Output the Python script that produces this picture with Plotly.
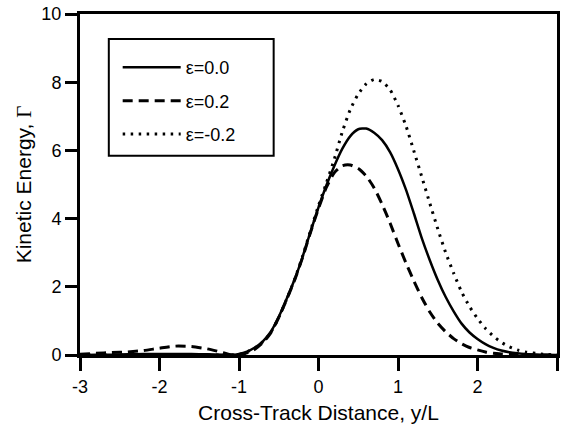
import plotly.graph_objects as go

x_vals = [-3.0, -2.8, -2.6, -2.4, -2.2, -2.0, -1.8, -1.6, -1.4, -1.2,
          -1.1, -1.0, -0.9, -0.8, -0.7, -0.6, -0.5, -0.4, -0.3, -0.2, -0.1,
          0.0, 0.1, 0.2, 0.3, 0.4, 0.5, 0.6, 0.7, 0.8, 0.9,
          1.0, 1.1, 1.2, 1.3, 1.4, 1.5, 1.6, 1.7, 1.8, 1.9,
          2.0, 2.1, 2.2, 2.3, 2.4, 2.5, 2.6, 2.8, 3.0]

eps_00 = [0.0, 0.01, 0.01, 0.02, 0.03, 0.03, 0.03, 0.03, 0.02, 0.01,
          0.0, 0.03, 0.1, 0.22, 0.4, 0.68, 1.12, 1.65, 2.22, 2.88, 3.62,
          4.33, 4.98, 5.55, 6.05, 6.42, 6.62, 6.64, 6.52, 6.3, 5.95,
          5.45, 4.85, 4.15, 3.42, 2.78, 2.2, 1.7, 1.28, 0.92, 0.66,
          0.47, 0.32, 0.21, 0.13, 0.08, 0.05, 0.03, 0.01, 0.0]

eps_p02 = [0.02, 0.05, 0.07, 0.09, 0.13, 0.2, 0.26, 0.25, 0.18, 0.07,
           0.01, 0.0, 0.06, 0.17, 0.36, 0.65, 1.1, 1.63, 2.2, 2.86, 3.6,
           4.3, 4.92, 5.35, 5.55, 5.57, 5.47, 5.25, 4.9, 4.42, 3.87,
           3.27, 2.7, 2.17, 1.68, 1.26, 0.93, 0.68, 0.48, 0.33, 0.22,
           0.15, 0.09, 0.05, 0.03, 0.02, 0.01, 0.0, 0.0, 0.0]

eps_m02 = [0.0, 0.0, 0.0, 0.0, 0.0, 0.0, 0.0, 0.0, 0.0, 0.0,
           0.0, 0.02, 0.09, 0.2, 0.39, 0.66, 1.1, 1.64, 2.22, 2.9, 3.65,
           4.38, 5.05, 5.75, 6.55, 7.2, 7.65, 7.95, 8.08, 8.02, 7.78,
           7.32, 6.72, 5.98, 5.22, 4.45, 3.7, 3.0, 2.4, 1.85, 1.42,
           1.07, 0.78, 0.55, 0.37, 0.24, 0.15, 0.09, 0.03, 0.0]

names = ["ε=0.0", "ε=0.2", "ε=-0.2"]
x_ticks = [-3, -2, -1, 0, 1, 2, 3]
y_ticks = [0, 2, 4, 6, 8, 10]

FONT = "Liberation Sans, Arial, sans-serif"

fig = go.Figure()
series = [(eps_00, "solid", 2.5), (eps_p02, "10px,6px", 3), (eps_m02, "2.5px,5.5px", 3)]
for i, (ys, dash, w) in enumerate(series):
    fig.add_trace(go.Scatter(
        x=x_vals, y=ys, mode="lines", name=names[i],
        legendgroup=str(i),
        line=dict(color="black", width=w, dash=dash, shape="spline", smoothing=0.6),
    ))

# legend frame
fig.add_shape(type="rect", xref="paper", yref="paper",
              x0=0.0604, x1=0.406, y0=0.584, y1=0.927,
              line=dict(color="black", width=2), fillcolor="white", layer="below")

fig.update_layout(
    width=561, height=434,
    margin=dict(l=80, r=1, t=14, b=79),
    paper_bgcolor="white", plot_bgcolor="white",
    font=dict(family=FONT, color="black", size=17),
    showlegend=True,
    legend=dict(
        x=0.079, y=0.897, xanchor="left", yanchor="top",
        bgcolor="rgba(0,0,0,0)", borderwidth=0,
        font=dict(size=18, family=FONT),
        traceorder="grouped", tracegroupgap=7,
        itemwidth=58,
    ),
)

fig.update_xaxes(
    range=[-3, 3], tickvals=x_ticks, ticktext=[str(v) for v in x_ticks],
    showgrid=False, zeroline=False,
    showline=True, linecolor="black", linewidth=3, mirror=True,
    ticks="outside", ticklen=13, tickwidth=2.5, tickcolor="black",
    tickfont=dict(size=18),
    title=dict(text="Cross-Track Distance, y/L", font=dict(size=21), standoff=10),
)
fig.update_yaxes(
    range=[0, 10], tickvals=y_ticks, ticktext=[str(v) for v in y_ticks],
    showgrid=False, zeroline=False,
    showline=True, linecolor="black", linewidth=3, mirror=True,
    ticks="outside", ticklen=12, tickwidth=2.5, tickcolor="black",
    tickfont=dict(size=18),
    title=dict(text="Kinetic Energy, <span style='font-family:Liberation Serif'>Γ</span>",
               font=dict(size=21), standoff=5),
)

fig.write_html("out.html", config={"displayModeBar": False},
               post_script="document.body.style.margin='0';document.body.style.overflow='hidden';")
